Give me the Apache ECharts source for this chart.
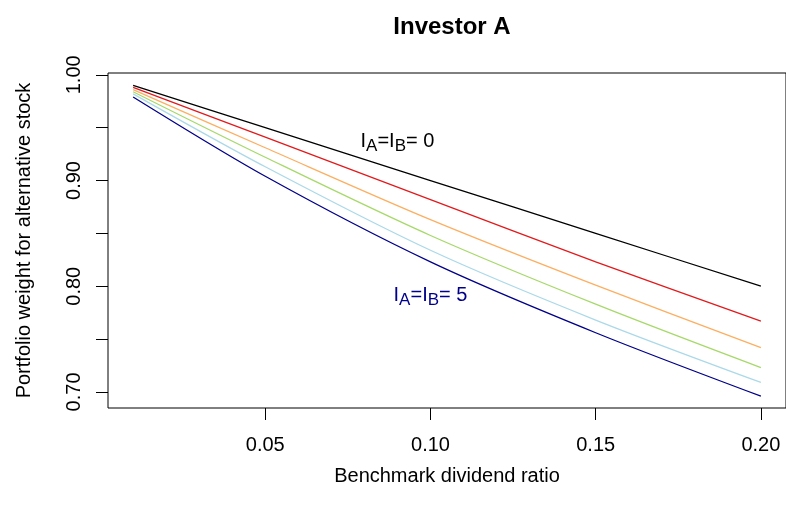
<!DOCTYPE html>
<html>
<head>
<meta charset="utf-8">
<script src="https://cdn.jsdelivr.net/npm/echarts@6/dist/echarts.min.js"></script>
<style>
  html, body { margin: 0; padding: 0; background: #ffffff; }
  #chart { width: 786px; height: 505px; }
</style>
</head>
<body>
<div id="chart"></div>
<script>
// Benchmark dividend ratio (x) and portfolio weight for each I_A = I_B level
const ratios   = [0.01, 0.05, 0.10, 0.15, 0.20];
const weightI0 = [0.990, 0.950, 0.900, 0.850, 0.800];
const weightI1 = [0.988, 0.941, 0.882, 0.823, 0.767];
const weightI2 = [0.986, 0.931, 0.863, 0.801, 0.742];
const weightI3 = [0.984, 0.922, 0.848, 0.783, 0.723];
const weightI4 = [0.982, 0.913, 0.834, 0.768, 0.709];
const weightI5 = [0.979, 0.904, 0.823, 0.756, 0.696];

const seriesNames  = ['I=0', 'I=1', 'I=2', 'I=3', 'I=4', 'I=5'];
const seriesValues = [weightI0, weightI1, weightI2, weightI3, weightI4, weightI5];
const seriesColors = ['#000000', '#E31A1C', '#FDAE61', '#A6D96A', '#ABD9E9', '#00008B'];

// Tick positions and labels
const xTicks  = [0.05, 0.10, 0.15, 0.20];
const yTicks  = [0.70, 0.75, 0.80, 0.85, 0.90, 0.95, 1.00];
const yLabels = [0.70, 0.80, 0.90, 1.00];

// In-plot annotations: [x, y, level, colour]
const notes = [
  [0.090, 0.937, '0', '#000000'],
  [0.100, 0.791, '5', '#00008B']
];

const FONT = '"Liberation Sans", Arial, Helvetica, sans-serif';

const chart = echarts.init(document.getElementById('chart'), null, { renderer: 'canvas' });

const option = {
  backgroundColor: '#ffffff',
  animation: false,
  title: {
    text: 'Investor A',
    left: 447, top: 10, textAlign: 'center',
    textStyle: { fontFamily: FONT, fontSize: 24, fontWeight: 'bold', color: '#000' }
  },
  grid: {
    left: 108, top: 73, bottom: 97, right: -1,
    show: true, borderColor: '#000', borderWidth: 1, backgroundColor: 'transparent'
  },
  xAxis: {
    type: 'value', min: 0.0024, max: 0.2076,
    name: 'Benchmark dividend ratio', nameLocation: 'middle', nameGap: 58,
    nameTextStyle: { fontFamily: FONT, fontSize: 20, color: '#000' },
    axisLine: { show: false },
    axisTick: { show: true, length: 12, customValues: xTicks, lineStyle: { color: '#000', width: 1 } },
    axisLabel: {
      customValues: xTicks, margin: 27,
      fontFamily: FONT, fontSize: 20, color: '#000',
      formatter: v => v.toFixed(2)
    },
    splitLine: { show: false }
  },
  yAxis: {
    type: 'value', min: 0.6848, max: 1.0017,
    name: 'Portfolio weight for alternative stock', nameLocation: 'middle', nameGap: 74,
    nameTextStyle: { fontFamily: FONT, fontSize: 20, color: '#000' },
    axisLine: { show: false },
    axisTick: { show: true, length: 12, customValues: yTicks, lineStyle: { color: '#000', width: 1 } },
    axisLabel: {
      customValues: yLabels, rotate: 90, margin: 24,
      fontFamily: FONT, fontSize: 20, color: '#000',
      formatter: v => v.toFixed(2)
    },
    splitLine: { show: false }
  },
  series: seriesValues.map((vals, i) => ({
    name: seriesNames[i],
    type: 'line',
    data: ratios.map((x, j) => [x, vals[j]]),
    showSymbol: false,
    smooth: 0.3,
    lineStyle: { color: seriesColors[i], width: 1.3 },
    itemStyle: { color: seriesColors[i] },
    z: 2
  }))
};

chart.setOption(option);

// Place the I_A=I_B annotations at their data positions
const graphics = notes.map(([x, y, level, color]) => {
  const p = chart.convertToPixel({ gridIndex: 0 }, [x, y]);
  return {
    type: 'text',
    x: p[0], y: p[1],
    style: {
      text: '{n|I}{s|A}{n|=I}{s|B}{n|= ' + level + '}',
      align: 'center', verticalAlign: 'middle',
      fill: color,
      rich: {
        n: { fontFamily: FONT, fontSize: 20, fill: color, lineHeight: 24 },
        s: { fontFamily: FONT, fontSize: 17, fill: color, lineHeight: 17, padding: [10, 0, 0, 0] }
      }
    },
    z: 10
  };
});
chart.setOption({ graphic: graphics });
</script>
</body>
</html>
